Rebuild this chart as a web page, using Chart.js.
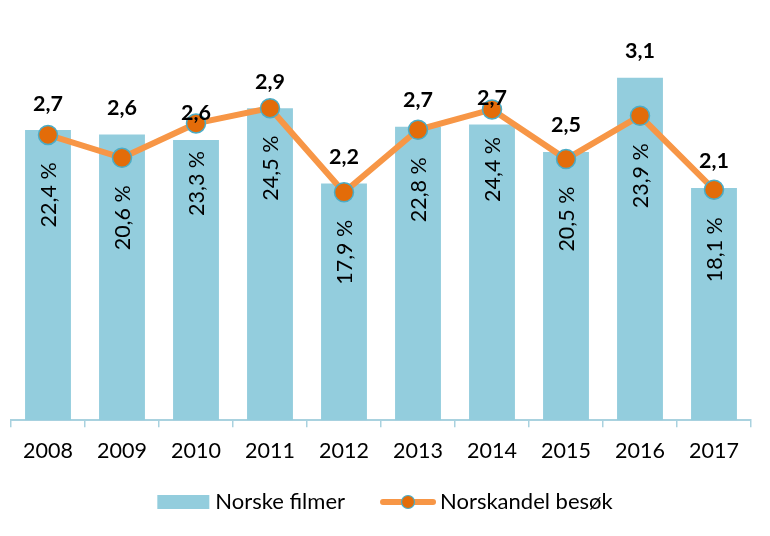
<!DOCTYPE html>
<html>
<head>
<meta charset="utf-8">
<script src="https://cdn.jsdelivr.net/npm/chart.js@4/dist/chart.umd.min.js"></script>
<style>
html,body{margin:0;padding:0;background:#fff;}
#wrap{width:770px;height:536px;position:relative;}
</style>
</head>
<body>
<div id="wrap"><canvas id="c" width="770" height="536"></canvas></div>
<script>
const years = ['2008','2009','2010','2011','2012','2013','2014','2015','2016','2017'];
const norskeFilmer = [2.66, 2.62, 2.57, 2.86, 2.17, 2.69, 2.71, 2.46, 3.14, 2.13];
const norskandelBesok = [22.4, 20.6, 23.3, 24.5, 17.9, 22.8, 24.4, 20.5, 23.9, 18.1];
const seriesNames = ['Norske filmer', 'Norskandel besøk'];

const BAR_COLOR = '#93CDDD';
const LINE_COLOR = '#F79646';
const POINT_COLOR = '#E36C09';
const POINT_BORDER = '#4BACC6';
const AXIS_COLOR = '#A9D2DF';
const FONT = 'Lato, "Open Sans", sans-serif';

function fmt(v, d) { return v.toFixed(d).replace('.', ','); }

const labelPlugin = {
  id: 'labels',
  afterDatasetsDraw(chart) {
    const ctx = chart.ctx;
    ctx.save();
    const barMeta = chart.getDatasetMeta(0);
    const lineMeta = chart.getDatasetMeta(1);
    ctx.fillStyle = '#000';
    // rotated percentage labels
    ctx.font = '21.5px ' + FONT;
    ctx.textAlign = 'center';
    ctx.textBaseline = 'middle';
    lineMeta.data.forEach((pt, i) => {
      ctx.save();
      ctx.translate(pt.x + 1, pt.y + 60);
      ctx.rotate(-Math.PI / 2);
      ctx.fillText(fmt(norskandelBesok[i], 1) + ' %', 0, 0);
      ctx.restore();
    });
    // bold bar value labels
    ctx.font = 'bold 21.5px ' + FONT;
    ctx.textBaseline = 'alphabetic';
    barMeta.data.forEach((bar, i) => {
      ctx.fillText(fmt(norskeFilmer[i], 1), bar.x, bar.y - 19.5);
    });
    ctx.restore();
  },
  afterDraw(chart) {
    const ctx = chart.ctx;
    ctx.save();
    ctx.font = '22px ' + FONT;
    ctx.textBaseline = 'middle';
    ctx.textAlign = 'left';
    const w1 = ctx.measureText(seriesNames[0]).width;
    const w2 = ctx.measureText(seriesNames[1]).width;
    const total = 52 + 6 + w1 + 35 + 56 + 4 + w2;
    let x = chart.width / 2 - total / 2;
    const y = 502;
    ctx.fillStyle = BAR_COLOR;
    ctx.fillRect(x, y - 7, 52, 14);
    x += 58;
    ctx.fillStyle = '#000';
    ctx.fillText(seriesNames[0], x, y);
    x += w1 + 35;
    ctx.strokeStyle = LINE_COLOR;
    ctx.lineWidth = 6;
    ctx.lineCap = 'round';
    ctx.beginPath();
    ctx.moveTo(x + 3, y);
    ctx.lineTo(x + 53, y);
    ctx.stroke();
    ctx.beginPath();
    ctx.arc(x + 28, y, 6.5, 0, Math.PI * 2);
    ctx.fillStyle = POINT_COLOR;
    ctx.fill();
    ctx.lineWidth = 1.2;
    ctx.strokeStyle = POINT_BORDER;
    ctx.stroke();
    x += 60;
    ctx.fillStyle = '#000';
    ctx.fillText(seriesNames[1], x, y);
    ctx.restore();
  }
};

new Chart(document.getElementById('c'), {
  type: 'bar',
  data: {
    labels: years,
    datasets: [
      {
        type: 'bar',
        label: seriesNames[0],
        data: norskeFilmer,
        backgroundColor: BAR_COLOR,
        borderWidth: 0,
        categoryPercentage: 1,
        barPercentage: 0.62,
        yAxisID: 'y',
        order: 2
      },
      {
        type: 'line',
        label: seriesNames[1],
        data: norskandelBesok,
        borderColor: LINE_COLOR,
        borderWidth: 6,
        pointRadius: 9.5,
        pointBackgroundColor: POINT_COLOR,
        pointBorderColor: POINT_BORDER,
        pointBorderWidth: 1.5,
        tension: 0,
        yAxisID: 'y2',
        order: 1
      }
    ]
  },
  options: {
    responsive: false,
    animation: false,
    events: [],
    layout: { padding: { top: 33, left: 10, right: 19, bottom: 61 } },
    plugins: { legend: { display: false }, tooltip: { enabled: false } },
    scales: {
      x: {
        offset: true,
        grid: {
          offset: true,
          display: true,
          drawOnChartArea: false,
          drawTicks: true,
          tickLength: 7,
          color: AXIS_COLOR,
          lineWidth: 1.5
        },
        border: { display: true, color: AXIS_COLOR, width: 2 },
        ticks: { color: '#000', font: { family: FONT, size: 21.5 }, padding: 11, maxRotation: 0 }
      },
      y: { display: false, min: 0, max: 3.55 },
      y2: { display: false, min: 0, max: 30.4, position: 'right' }
    }
  },
  plugins: [labelPlugin]
});
</script>
</body>
</html>
